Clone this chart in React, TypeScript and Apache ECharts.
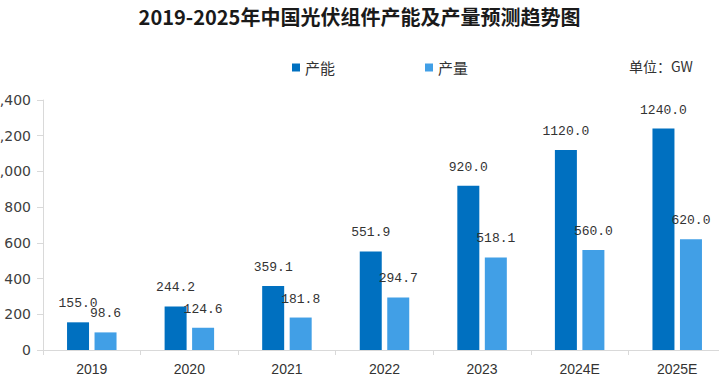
import React, { useEffect, useRef } from "react";
import * as echarts from "echarts";

const categories = ["2019", "2020", "2021", "2022", "2023", "2024E", "2025E"];
const capacity = [155.0, 244.2, 359.1, 551.9, 920.0, 1120.0, 1240.0];
const output = [98.6, 124.6, 181.8, 294.7, 518.1, 560.0, 620.0];
const seriesNames = ["产能", "产量"];
const titleText = "2019-2025年中国光伏组件产能及产量预测趋势图";
const unitText = "单位：GW";

export default function App() {
  const ref = useRef<HTMLDivElement>(null);
  useEffect(() => {
    if (!ref.current) return;
    const chart = echarts.init(ref.current, null, { renderer: "svg" });
    const labelStyle = {
      show: true,
      position: "top" as const,
      distance: 12,
      fontFamily: "Liberation Mono",
      fontSize: 13,
      color: "#333",
      formatter: (p: any) => Number(p.value).toFixed(1),
    };
    chart.setOption({
      animation: false,
      backgroundColor: "#fff",
      title: {
        text: titleText,
        left: "center",
        top: 6,
        padding: 0,
        textStyle: {
          fontFamily: "Noto Sans CJK SC",
          fontSize: 20,
          fontWeight: "bold",
          color: "#1a1a1a",
        },
      },
      legend: {
        left: 287,
        top: 55,
        itemWidth: 8,
        itemHeight: 8,
        itemGap: 90,
        icon: "rect",
        textStyle: {
          fontFamily: "Noto Sans CJK SC",
          fontSize: 15,
          color: "#333",
        },
        data: seriesNames,
      },
      graphic: [
        {
          type: "text",
          left: 629,
          top: 59,
          style: {
            text: unitText,
            fontFamily: "Noto Sans CJK SC",
            fontSize: 14,
            fill: "#333",
          },
        },
      ],
      grid: {
        left: 43,
        top: 100,
        width: 683,
        bottom: 37,
        containLabel: false,
        outerBoundsMode: "none",
      },
      xAxis: {
        type: "category",
        data: categories,
        axisLine: { show: true, lineStyle: { color: "#d9d9d9" } },
        axisTick: { show: true, length: 5, alignWithLabel: false, lineStyle: { color: "#d9d9d9" } },
        axisLabel: {
          margin: 12,
          fontFamily: "Liberation Sans",
          fontSize: 14,
          color: "#333",
        },
        splitLine: { show: false },
      },
      yAxis: {
        type: "value",
        min: 0,
        max: 1400,
        interval: 200,
        axisLine: { show: true, lineStyle: { color: "#d9d9d9" } },
        axisTick: { show: true, length: 6, lineStyle: { color: "#d9d9d9" } },
        axisLabel: {
          margin: 12,
          fontFamily: "DejaVu Sans",
          fontSize: 14,
          color: "#404040",
          formatter: (v: number) => v.toLocaleString("en-US"),
        },
        splitLine: { show: false },
      },
      series: [
        {
          name: seriesNames[0],
          type: "bar",
          data: capacity,
          barWidth: 22,
          barGap: "25%",
          itemStyle: { color: "#0070C0" },
          label: labelStyle,
        },
        {
          name: seriesNames[1],
          type: "bar",
          data: output,
          barWidth: 22,
          barGap: "25%",
          itemStyle: { color: "#419FE6" },
          label: labelStyle,
        },
      ],
    });
    return () => chart.dispose();
  }, []);
  return (
    <div
      ref={ref}
      style={{ position: "fixed", left: 0, top: 0, width: 719, height: 387, background: "#fff" }}
    />
  );
}
